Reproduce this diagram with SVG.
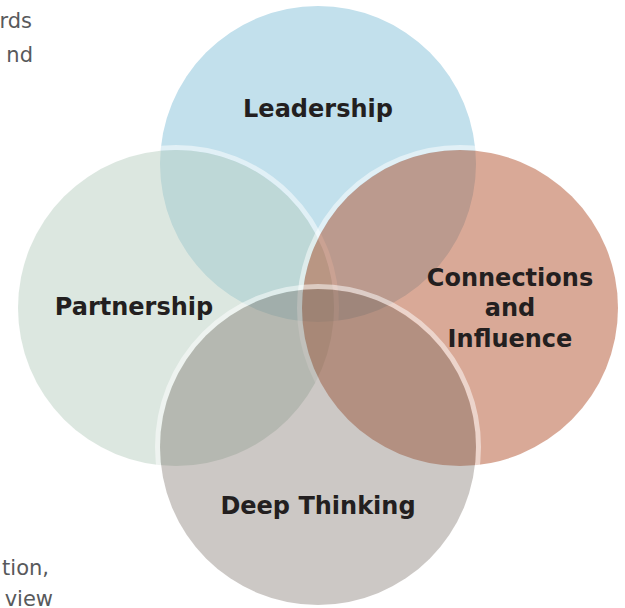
<svg xmlns="http://www.w3.org/2000/svg" width="625" height="608" viewBox="0 0 625 608">
<style>
.lbl{font-family:"DejaVu Sans","Liberation Sans",sans-serif;font-weight:bold;font-size:24px;fill:#231F20;text-anchor:middle}
.bg{font-family:"DejaVu Sans","Liberation Sans",sans-serif;font-size:21px;fill:#58595B;text-anchor:end}
.ring{fill:none;stroke:#FFFFFF;stroke-opacity:0.5;stroke-width:5}
</style>
<rect width="625" height="608" fill="#FFFFFF"/>
<g id="background-text">
<text class="bg" x="32" y="28">rds</text>
<text class="bg" x="33" y="62">nd</text>
<text class="bg" x="49" y="575">tion,</text>
<text class="bg" x="53" y="606">view</text>
</g>
<g id="leadership">
<circle cx="318" cy="164" r="158" fill="#C2E0EC"/>
</g>
<g id="partnership">
<circle class="ring" cx="176" cy="308" r="160.5"/>
<circle cx="176" cy="308" r="158" fill="rgb(185,207,193)" fill-opacity="0.5"/>
</g>
<g id="connections">
<circle class="ring" cx="460" cy="308" r="160.5"/>
<circle cx="460" cy="308" r="158" fill="rgb(179,83,47)" fill-opacity="0.5"/>
</g>
<g id="deep-thinking">
<circle class="ring" cx="318" cy="447" r="160.5"/>
<circle cx="318" cy="447" r="158" fill="rgb(109,98,89)" fill-opacity="0.35"/>
</g>
<g id="labels">
<text class="lbl" x="318" y="117">Leadership</text>
<text class="lbl" x="134" y="315">Partnership</text>
<text class="lbl" x="510" y="285.5">Connections</text>
<text class="lbl" x="510" y="316">and</text>
<text class="lbl" x="510" y="346.5">Influence</text>
<text class="lbl" x="318" y="514">Deep Thinking</text>
</g>
<g id="connectors"/>
</svg>
